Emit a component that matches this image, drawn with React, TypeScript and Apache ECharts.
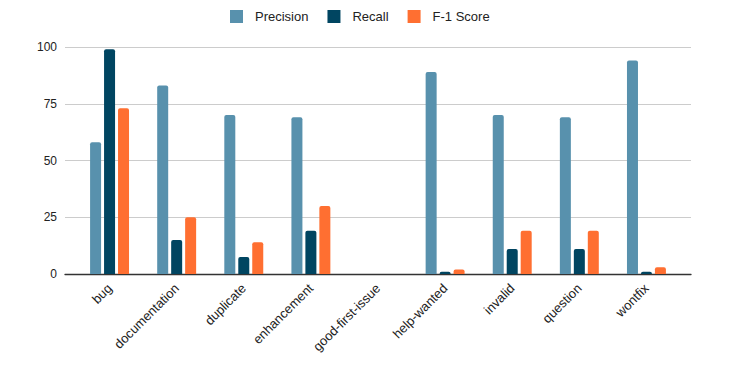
import React, { useEffect, useRef } from "react";
import * as echarts from "echarts";

const categories = ["bug", "documentation", "duplicate", "enhancement", "good-first-issue", "help-wanted", "invalid", "question", "wontfix"];
const precision = [58, 83, 70, 69, 0, 89, 70, 69, 94];
const recall = [99, 15, 7.5, 19, 0, 1, 11, 11, 1];
const f1Score = [73, 25, 14, 30, 0, 2, 19, 19, 3];
const seriesNames = ["Precision", "Recall", "F-1 Score"];
const colors = ["#5891AD", "#004561", "#FF6F31"];

export default function App() {
  const ref = useRef<HTMLDivElement>(null);
  useEffect(() => {
    document.body.style.margin = "0";
    const chart = echarts.init(ref.current!, null, { renderer: "svg" });
    const font = "Liberation Sans, Arial, sans-serif";
    const values = [precision, recall, f1Score];
    chart.setOption({
      animation: false,
      color: colors,
      textStyle: { fontFamily: font },
      legend: {
        top: 5,
        left: 225,
        icon: "rect",
        itemWidth: 13,
        itemHeight: 13,
        itemGap: 19,
        textStyle: { color: "#222", fontSize: 13, fontFamily: font, padding: [0, 0, 0, 7] },
        data: seriesNames,
      },
      grid: [
        { left: 65, right: 48, top: 47, bottom: 97 },
        { left: 76, right: 59, top: 47, bottom: 97 },
      ],
      xAxis: [
        {
          type: "category",
          gridIndex: 0,
          data: categories,
          axisLine: { show: true, lineStyle: { color: "#333", width: 1.3 } },
          axisTick: { show: false },
          axisLabel: { show: false },
        },
        {
          type: "category",
          gridIndex: 1,
          data: categories,
          axisLine: { show: false },
          axisTick: { show: false },
          axisLabel: { rotate: 45, color: "#222", fontSize: 13, fontFamily: font, margin: 12 },
        },
      ],
      yAxis: [
        {
          type: "value",
          gridIndex: 0,
          min: 0,
          max: 100,
          interval: 25,
          axisLine: { show: false },
          axisTick: { show: false },
          axisLabel: { color: "#222", fontSize: 12, fontFamily: font, margin: 8 },
          splitLine: { lineStyle: { color: "#ccc", width: 1 } },
        },
        {
          type: "value",
          gridIndex: 1,
          min: 0,
          max: 100,
          interval: 25,
          show: false,
          splitLine: { show: false },
        },
      ],
      series: seriesNames.map((name, i) => ({
        name,
        type: "bar",
        xAxisIndex: 1,
        yAxisIndex: 1,
        data: values[i],
        barWidth: 11,
        barGap: "27%",
        itemStyle: { color: colors[i], borderRadius: [2, 2, 0, 0] },
      })),
    });
    return () => chart.dispose();
  }, []);
  return <div ref={ref} style={{ width: 739, height: 371 }} />;
}
